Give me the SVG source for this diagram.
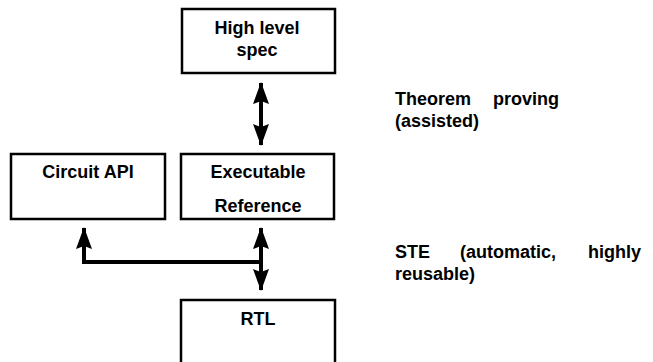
<svg xmlns="http://www.w3.org/2000/svg" width="653" height="362" viewBox="0 0 653 362">
  <style>
    .box { fill: #ffffff; stroke: #000000; stroke-width: 2.5; }
    .lbl { font-family: "Liberation Sans", Arial, sans-serif; font-weight: bold; font-size: 18px; fill: #000000; }
    .mid { text-anchor: middle; }
    .wire { fill: none; stroke: #000000; stroke-width: 4; }
  </style>
  <defs>
    <!-- solid arrowhead, slight notch at the back -->
    <marker id="head" viewBox="0 0 22 16" refX="21" refY="8" markerWidth="22" markerHeight="16" markerUnits="userSpaceOnUse" orient="auto-start-reverse">
      <path d="M0,0 L22,8 L0,16 L3,8 Z" fill="#000000"/>
    </marker>
  </defs>
  <rect width="653" height="362" fill="#ffffff"/>

  <g id="high-level-spec">
    <rect class="box" x="182" y="9" width="153" height="64"/>
    <text class="lbl mid" x="257" y="34">High level</text>
    <text class="lbl mid" x="257" y="56">spec</text>
  </g>

  <g id="circuit-api">
    <rect class="box" x="11" y="154" width="154" height="65"/>
    <text class="lbl mid" x="88" y="178">Circuit API</text>
  </g>

  <g id="executable-reference">
    <rect class="box" x="181" y="154" width="153" height="65"/>
    <text class="lbl mid" x="258" y="178">Executable</text>
    <text class="lbl mid" x="258" y="212">Reference</text>
  </g>

  <g id="rtl">
    <rect class="box" x="181" y="300" width="154" height="80"/>
    <text class="lbl mid" x="258" y="325">RTL</text>
  </g>

  <g id="connectors">
    <line class="wire" x1="261" y1="83" x2="261" y2="145" marker-start="url(#head)" marker-end="url(#head)"/>
    <line class="wire" x1="261" y1="228" x2="261" y2="290" marker-start="url(#head)" marker-end="url(#head)"/>
    <polyline class="wire" points="84,228 84,262 261,262" marker-start="url(#head)"/>
  </g>

  <g id="annotations">
    <text class="lbl" x="395" y="105">Theorem</text>
    <text class="lbl" x="493" y="105">proving</text>
    <text class="lbl" x="395" y="127">(assisted)</text>
    <text class="lbl" x="395" y="258">STE</text>
    <text class="lbl" x="460" y="258">(automatic,</text>
    <text class="lbl" x="588" y="258">highly</text>
    <text class="lbl" x="395" y="280">reusable)</text>
  </g>
</svg>
